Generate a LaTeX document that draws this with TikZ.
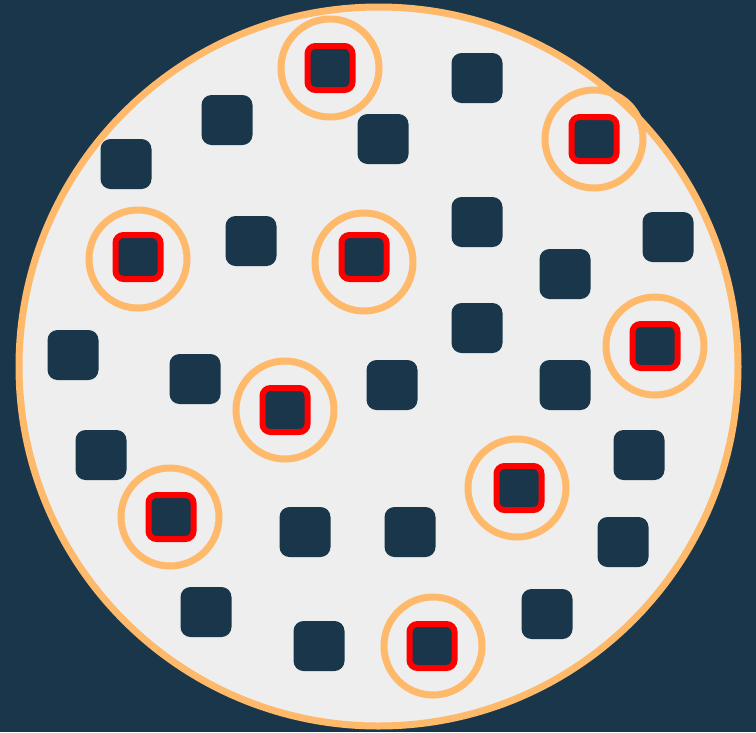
\documentclass[tikz,border=0pt]{standalone}
\usepackage{tikz}
\usetikzlibrary{positioning}
\definecolor{Navy}{HTML}{19364B}
\definecolor{Dish}{HTML}{EEEEEE}
\definecolor{Peach}{HTML}{FFB96B}
\definecolor{Alarm}{HTML}{FF0000}
\tikzset{
  tile/.style={fill=Navy, draw=none, rounded corners=10pt, inner sep=0pt,
    minimum width=51pt, minimum height=50pt},
  marked/.style={fill=Navy, draw=Alarm, line width=6pt, rounded corners=8pt,
    inner sep=0pt, minimum width=45pt, minimum height=44pt},
  halo/.style={circle, draw=Peach, line width=7pt, inner sep=0pt,
    minimum size=98pt},
}
\begin{document}
\begin{tikzpicture}[x=1pt, y=-1pt]
  \useasboundingbox (0,0) rectangle (756,732);
  \fill[Navy] (0,0) rectangle (756,732);
  \node[circle, fill=Dish, draw=Peach, line width=7pt, inner sep=0pt,
    minimum size=719pt] (dish) at (378.5,366.5) {};

  % plain tiles
  \foreach \x/\y [count=\i] in {477/78, 227/120, 383/139, 126/164, 251/241,
      477/222, 668/237, 565/274, 73/355, 477/328, 195/379, 392/385, 565/385,
      101/455, 639/455, 305/532, 410/532, 623/542, 206/612, 547/614, 319/646}
    \node[tile] (t\i) at (\x,\y) {};

  % marked tiles with their halos
  \foreach \x/\y/\hx/\hy [count=\i] in {330/68/330/68, 594/139/594/139,
      138/257/138/259, 364/257/364/262, 655/346/655/346, 285/410/285/410,
      519/488/517/488, 171/517/170/517, 432/646/433/646}
  {
    \node[halo] (h\i) at (\hx,\hy) {};
    \node[marked] (m\i) at (\x,\y) {};
  }
\end{tikzpicture}
\end{document}
